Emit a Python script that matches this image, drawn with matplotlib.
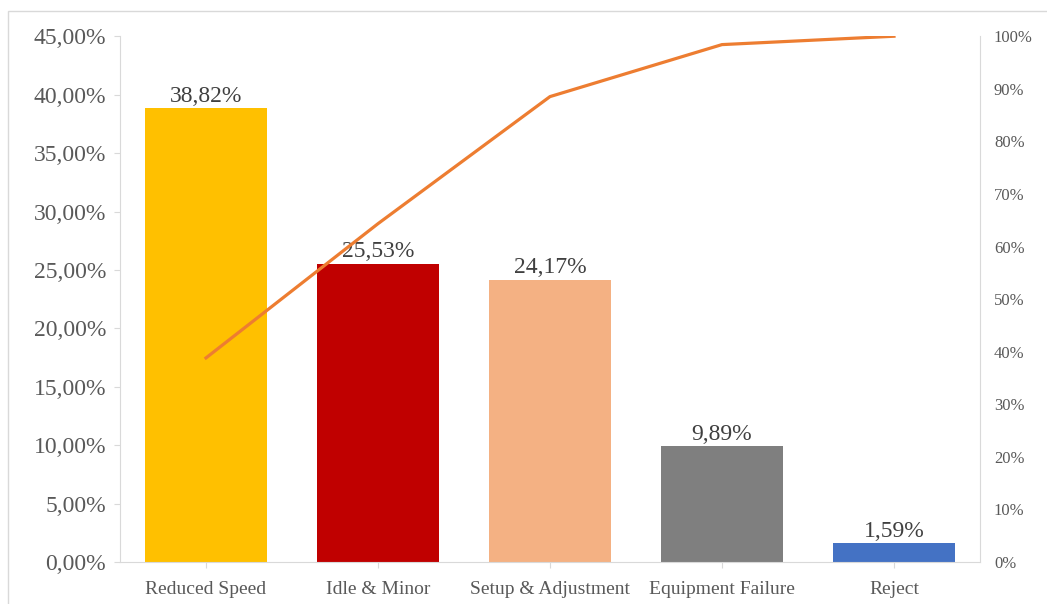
import matplotlib.pyplot as plt
from matplotlib.patches import Rectangle
from matplotlib.ticker import FuncFormatter

categories = ['Reduced Speed', 'Idle & Minor', 'Setup & Adjustment', 'Equipment Failure', 'Reject']
values = [38.82, 25.53, 24.17, 9.89, 1.59]
cumulative = [38.82, 64.35, 88.52, 98.41, 100.0]
colors = ['#FFC000', '#C00000', '#F4B183', '#7F7F7F', '#4472C4']

plt.rcParams['font.family'] = ['Liberation Serif', 'DejaVu Serif']
grey = '#595959'
spine_c = '#D9D9D9'

fig = plt.figure(figsize=(10.47, 6.04), dpi=100)
ax = fig.add_axes([0.1146, 0.0695, 0.8214, 0.8705])

x = range(len(categories))
bars = ax.bar(x, values, width=0.71, color=colors, zorder=2)
for xi, v in zip(x, values):
    ax.text(xi, v + 0.15, f'{v:.2f}%'.replace('.', ','), ha='center', va='bottom',
            fontsize=17, color='#404040', zorder=5)

ax.set_xlim(-0.5, len(categories) - 0.5)
ax.set_ylim(0, 45)
ax.set_yticks(range(0, 46, 5))
ax.yaxis.set_major_formatter(FuncFormatter(lambda v, p: f'{v:.2f}%'.replace('.', ',')))
ax.set_xticks(list(x))
ax.set_xticklabels(categories)
ax.tick_params(axis='y', labelsize=17, colors=grey, length=4, color=spine_c, pad=6)
ax.tick_params(axis='x', labelsize=14, colors=grey, length=4, color=spine_c, pad=10)
for s in ['top', 'right']:
    ax.spines[s].set_visible(False)
for s in ['left', 'bottom']:
    ax.spines[s].set_color(spine_c)

ax2 = ax.twinx()
ax2.plot(list(x), cumulative, color='#ED7D31', linewidth=2.3, zorder=3)
ax2.set_ylim(0, 100)
ax2.set_yticks(range(0, 101, 10))
ax2.yaxis.set_major_formatter(FuncFormatter(lambda v, p: f'{v:.0f}%'))
ax2.tick_params(axis='y', labelsize=12, colors=grey, length=0, pad=10)
for s in ['top', 'left', 'bottom']:
    ax2.spines[s].set_visible(False)
ax2.spines['right'].set_color(spine_c)

fig.patches.append(Rectangle((8 / 1047, -0.01), 1.0, (604 - 11) / 604 + 0.01,
                             transform=fig.transFigure, fill=False,
                             edgecolor='#D9D9D9', linewidth=1))

fig.savefig('out.png', dpi=100)
